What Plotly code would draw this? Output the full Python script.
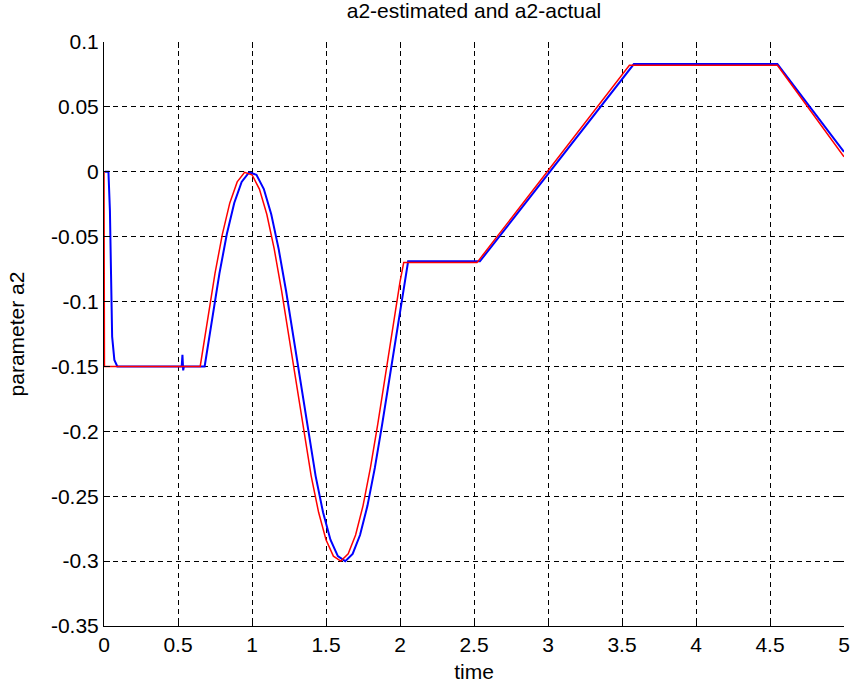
import plotly.graph_objects as go

# ---- data ----
t_actual = [0.0, 0.003, 0.65, 0.70, 0.75, 0.80, 0.85, 0.90, 0.95, 1.00, 1.05, 1.10,
            1.15, 1.20, 1.25, 1.30, 1.35, 1.40, 1.45, 1.50, 1.55, 1.60, 1.65, 1.70,
            1.75, 1.80, 1.85, 1.90, 1.95, 2.00, 2.025, 2.52, 3.55, 4.55, 5.0]
a2_actual = [0.0, -0.15, -0.15, -0.1130, -0.0783, -0.0480, -0.0240, -0.0078, -0.0004,
             -0.0023, -0.0133, -0.0327, -0.0594, -0.0917, -0.1277, -0.1649, -0.2013,
             -0.2345, -0.2624, -0.2835, -0.2962, -0.3000, -0.2944, -0.2799, -0.2574,
             -0.2282, -0.1942, -0.1575, -0.1203, -0.0849, -0.0700, -0.0700, 0.0820,
             0.0820, 0.0116]

t_est = [0.005, 0.03, 0.04, 0.05, 0.055, 0.07, 0.09, 0.525, 0.53, 0.535, 0.54,
         0.68, 0.73, 0.78, 0.83, 0.88, 0.93, 0.98, 1.03, 1.08, 1.13, 1.18, 1.23,
         1.28, 1.33, 1.38, 1.43, 1.48, 1.53, 1.58, 1.63, 1.68, 1.73, 1.78, 1.83,
         1.88, 1.93, 1.98, 2.03, 2.055, 2.54, 3.58, 4.55, 5.0]
a2_est = [0.0, 0.0, -0.03, -0.10, -0.127, -0.145, -0.15, -0.15, -0.141, -0.153, -0.15,
          -0.15, -0.1130, -0.0783, -0.0480, -0.0240, -0.0078, -0.0004, -0.0023,
          -0.0133, -0.0327, -0.0594, -0.0917, -0.1277, -0.1649, -0.2013, -0.2345,
          -0.2624, -0.2835, -0.2962, -0.3000, -0.2944, -0.2799, -0.2574, -0.2282,
          -0.1942, -0.1575, -0.1203, -0.0849, -0.0690, -0.0690, 0.0830, 0.0830,
          0.0154]

x_ticks = [0, 0.5, 1, 1.5, 2, 2.5, 3, 3.5, 4, 4.5, 5]
x_tick_labels = ["0", "0.5", "1", "1.5", "2", "2.5", "3", "3.5", "4", "4.5", "5"]
y_ticks = [-0.35, -0.3, -0.25, -0.2, -0.15, -0.1, -0.05, 0, 0.05, 0.1]
y_tick_labels = ["-0.35", "-0.3", "-0.25", "-0.2", "-0.15", "-0.1", "-0.05", "0", "0.05", "0.1"]

FONT = "Liberation Sans, Arial, sans-serif"

fig = go.Figure()
fig.add_trace(go.Scatter(x=t_est, y=a2_est, mode="lines",
                         line=dict(color="#0000FF", width=2), showlegend=False))
fig.add_trace(go.Scatter(x=t_actual, y=a2_actual, mode="lines",
                         line=dict(color="#FF0000", width=1.5), showlegend=False))
# dummy trace on overlay axes (for mirrored inside ticks)
fig.add_trace(go.Scatter(x=[None], y=[None], xaxis="x2", yaxis="y2",
                         showlegend=False, hoverinfo="skip"))

grid = dict(showgrid=True, gridcolor="black", gridwidth=1, griddash="5px,4px")

fig.update_layout(
    template="none",
    width=855, height=687,
    margin=dict(l=104, r=11, t=42, b=61, autoexpand=False),
    paper_bgcolor="white", plot_bgcolor="white",
    font=dict(family=FONT, size=21, color="black"),
    title=dict(text="a2-estimated and a2-actual", x=0.5, xref="paper",
               y=1 - 3 / 687, yref="container", yanchor="top",
               xanchor="center", font=dict(size=21, color="black")),
    xaxis=dict(range=[0, 5], tickvals=x_ticks, ticktext=x_tick_labels,
               ticks="inside", ticklen=6, tickcolor="black", automargin=False,
               showline=True, linecolor="black", linewidth=1,
               zeroline=False,
               title=dict(text="time", standoff=9, font=dict(size=21)),
               **grid),
    yaxis=dict(range=[-0.35, 0.1], tickvals=y_ticks, ticktext=y_tick_labels,
               ticks="inside", ticklen=6, tickcolor="black", automargin=False,
               showline=True, linecolor="black", linewidth=1,
               zeroline=False,
               title=dict(text="parameter a2", standoff=20, font=dict(size=21)),
               **grid),
    xaxis2=dict(range=[0, 5], overlaying="x", side="top", anchor="y",
                tickvals=x_ticks, ticks="inside", ticklen=6, tickcolor="black",
                showticklabels=False, showgrid=False, zeroline=False, showline=False,
                automargin=False),
    yaxis2=dict(range=[-0.35, 0.1], overlaying="y", side="right", anchor="x",
                tickvals=y_ticks, ticks="inside", ticklen=6, tickcolor="black",
                showticklabels=False, showgrid=False, zeroline=False, showline=False,
                automargin=False),
)

fig.write_html("out.html", config={"displayModeBar": False},
               post_script="document.body.style.margin='0px';")
